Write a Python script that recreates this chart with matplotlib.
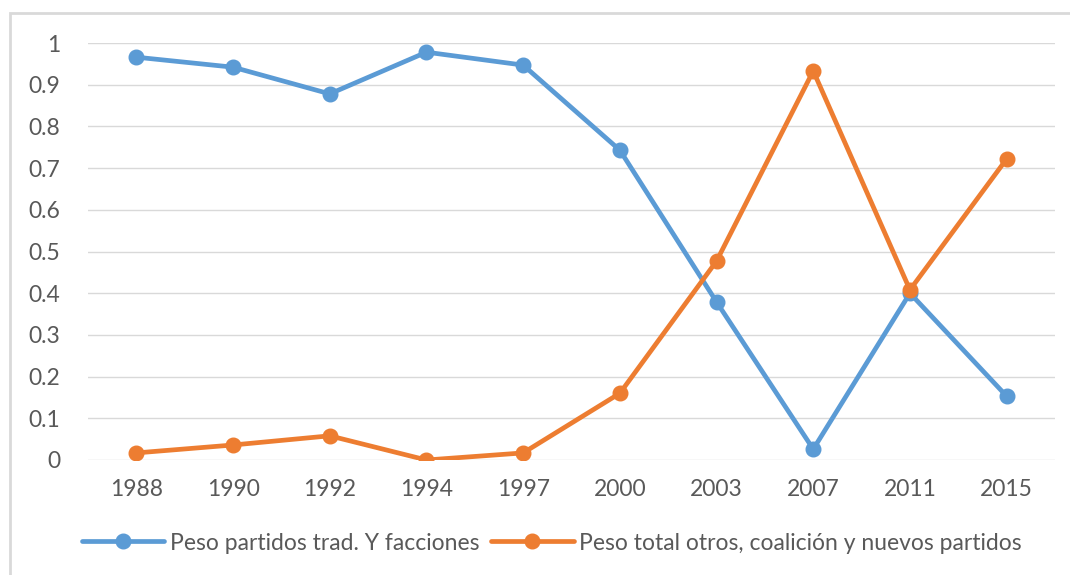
import matplotlib.pyplot as plt
from matplotlib.patches import Rectangle
from matplotlib.ticker import FuncFormatter

# Data
years = ["1988", "1990", "1992", "1994", "1997", "2000", "2003", "2007", "2011", "2015"]
peso_trad = [0.966, 0.942, 0.878, 0.978, 0.947, 0.743, 0.379, 0.026, 0.400, 0.153]
peso_otros = [0.017, 0.036, 0.058, 0.0, 0.017, 0.160, 0.477, 0.933, 0.408, 0.722]

label_trad = "Peso partidos trad. Y facciones"
label_otros = "Peso total otros, coalición y nuevos partidos"

blue = "#5B9BD5"
orange = "#ED7D31"
grey_txt = "#595959"
grid_col = "#d9d9d9"

plt.rcParams["font.family"] = ["Lato", "DejaVu Sans"]

fig = plt.figure(figsize=(10.7, 5.75), dpi=100)
ax = fig.add_axes([88 / 1070, 1 - 460 / 575, (1055 - 88) / 1070, (460 - 43) / 575])

x = list(range(len(years)))
ax.plot(x, peso_trad, color=blue, lw=3.4, marker="o", ms=10.5, label=label_trad,
        solid_capstyle="round", zorder=3)
ax.plot(x, peso_otros, color=orange, lw=3.4, marker="o", ms=10.5, label=label_otros,
        solid_capstyle="round", zorder=3)

ax.set_xlim(-0.5, len(years) - 0.5)
ax.set_ylim(0, 1)
ax.set_yticks([i / 10 for i in range(11)])
ax.yaxis.set_major_formatter(FuncFormatter(lambda v, p: f"{v:g}"))
ax.set_xticks(x)
ax.set_xticklabels(years)

ax.grid(axis="y", color=grid_col, lw=1)
ax.set_axisbelow(True)
for s in ["top", "right", "left", "bottom"]:
    ax.spines[s].set_visible(False)
ax.tick_params(length=0, labelsize=16.5, colors=grey_txt)
ax.tick_params(axis="y", pad=20)
ax.tick_params(axis="x", pad=14)

leg = fig.legend(loc="center", bbox_to_anchor=(552 / 1070, 1 - 543 / 575), ncol=2,
                 frameon=False, fontsize=16.5, handlelength=3.6, columnspacing=0.5,
                 handletextpad=0.25)
for t in leg.get_texts():
    t.set_color(grey_txt)

# chart border
fig.patches.append(Rectangle((10 / 1070, -0.1), 1.2, 1 - 13 / 575 + 0.1,
                             transform=fig.transFigure, fill=False,
                             edgecolor=grid_col, lw=2))

fig.savefig("out.png", dpi=100)
